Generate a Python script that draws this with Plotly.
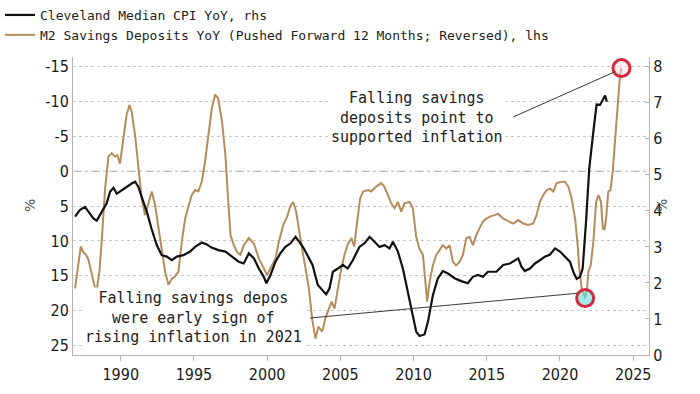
import plotly.graph_objects as go

# ---------------- data ----------------
cpi_years = [1986.88, 1987.2, 1987.56, 1987.8, 1988.13, 1988.36, 1988.7, 1989.04, 1989.27, 1989.5,
             1989.73, 1990.07, 1990.4, 1990.75, 1990.98, 1991.2, 1991.43, 1991.78, 1992.1, 1992.46,
             1992.8, 1993.14, 1993.49, 1993.83, 1994.28, 1994.74, 1995.08, 1995.54, 1995.88, 1996.2,
             1996.67, 1997.15, 1997.6, 1998.06, 1998.4, 1998.75, 1999.1, 1999.43, 1999.77, 1999.95,
             2000.23, 2000.57, 2000.9, 2001.25, 2001.6, 2001.94, 2002.2, 2002.5, 2002.8, 2003.1,
             2003.46, 2003.8, 2004.03, 2004.26, 2004.49, 2004.83, 2005.17, 2005.5, 2005.85, 2006.3,
             2006.65, 2007.0, 2007.33, 2007.68, 2008.02, 2008.36, 2008.59, 2008.93, 2009.27, 2009.6,
             2009.95, 2010.18, 2010.4, 2010.75, 2010.98, 2011.32, 2011.66, 2012.0, 2012.35, 2012.8,
             2013.26, 2013.7, 2014.05, 2014.4, 2014.74, 2015.08, 2015.66, 2016.12, 2016.58, 2016.92,
             2017.15, 2017.37, 2017.6, 2017.95, 2018.29, 2018.63, 2018.97, 2019.32, 2019.66, 2020.0,
             2020.34, 2020.68, 2020.91, 2021.14, 2021.37, 2021.55, 2021.78, 2022.0, 2022.28, 2022.5,
             2022.74, 2022.97, 2023.08, 2023.2]
cpi_values = [3.84, 4.02, 4.11, 3.98, 3.79, 3.73, 3.98, 4.21, 4.53, 4.64,
              4.48, 4.58, 4.67, 4.76, 4.81, 4.67, 4.39, 3.98, 3.51, 3.05,
              2.77, 2.73, 2.63, 2.73, 2.77, 2.87, 3.00, 3.12, 3.07, 2.98,
              2.91, 2.87, 2.73, 2.59, 2.54, 2.82, 2.68, 2.40, 2.17, 1.99,
              2.22, 2.59, 2.82, 3.00, 3.10, 3.28, 3.14, 2.96, 2.73, 2.50,
              1.94, 1.80, 1.68, 1.85, 2.31, 2.40, 2.50, 2.40, 2.63, 3.00,
              3.10, 3.28, 3.14, 3.00, 3.05, 2.96, 3.14, 2.87, 2.40, 1.76,
              1.11, 0.65, 0.53, 0.57, 0.92, 1.66, 2.13, 2.33, 2.26, 2.13,
              2.05, 1.99, 2.17, 2.22, 2.17, 2.31, 2.31, 2.50, 2.54, 2.63,
              2.68, 2.45, 2.33, 2.40, 2.54, 2.63, 2.73, 2.79, 2.96, 2.87,
              2.73, 2.59, 2.31, 2.11, 2.17, 2.40, 3.70, 5.18, 6.20, 6.95,
              6.94, 7.12, 7.20, 7.03]

m2_years = [1986.88, 1987.1, 1987.27, 1987.45, 1987.63, 1987.8, 1988.0, 1988.25, 1988.36, 1988.54,
            1988.7, 1988.93, 1989.16, 1989.38, 1989.6, 1989.77, 1989.95, 1990.18, 1990.4, 1990.6,
            1990.75, 1990.98, 1991.2, 1991.43, 1991.66, 1991.9, 1992.12, 1992.35, 1992.57, 1992.8,
            1993.03, 1993.26, 1993.49, 1993.7, 1993.94, 1994.17, 1994.4, 1994.62, 1994.85, 1995.08,
            1995.3, 1995.53, 1995.76, 1995.99, 1996.22, 1996.45, 1996.65, 1996.92, 1997.15, 1997.33,
            1997.5, 1997.72, 1997.95, 1998.17, 1998.4, 1998.75, 1999.1, 1999.43, 1999.66, 2000.0,
            2000.23, 2000.57, 2000.8, 2001.1, 2001.37, 2001.6, 2001.78, 2001.98, 2002.16, 2002.39,
            2002.6, 2002.85, 2003.07, 2003.3, 2003.5, 2003.76, 2003.98, 2004.2, 2004.4, 2004.6,
            2004.83, 2005.07, 2005.28, 2005.5, 2005.75, 2005.95, 2006.15, 2006.35, 2006.55, 2006.9,
            2007.1, 2007.45, 2007.8, 2008.0, 2008.25, 2008.47, 2008.7, 2008.93, 2009.16, 2009.38,
            2009.73, 2009.95, 2010.18, 2010.4, 2010.64, 2010.82, 2010.93, 2011.09, 2011.32, 2011.55,
            2011.78, 2012.0, 2012.23, 2012.46, 2012.69, 2012.9, 2013.14, 2013.37, 2013.6, 2013.83,
            2014.05, 2014.28, 2014.5, 2014.74, 2014.97, 2015.2, 2015.53, 2015.77, 2016.12, 2016.46,
            2016.8, 2017.15, 2017.5, 2017.83, 2018.17, 2018.4, 2018.63, 2018.86, 2019.1, 2019.32,
            2019.54, 2019.77, 2020.11, 2020.34, 2020.57, 2020.8, 2021.03, 2021.19, 2021.32, 2021.48,
            2021.72, 2021.85, 2021.94, 2022.1, 2022.28, 2022.47, 2022.63, 2022.8, 2022.93, 2023.04,
            2023.15, 2023.3, 2023.45, 2023.6, 2023.77, 2023.95, 2024.1, 2024.2]
m2_values = [16.8, 13.0, 10.8, 11.6, 12.0, 12.75, 14.4, 16.8, 17.1, 14.4,
             10.1, 2.5, -2.1, -2.6, -2.1, -2.3, -1.1, -4.5, -8.1, -9.5,
             -8.5, -5.2, -0.9, 3.9, 6.3, 4.4, 2.9, 4.9, 8.2, 11.1,
             14.4, 16.3, 15.4, 15.1, 14.4, 10.1, 6.8, 5.1, 3.4, 2.7,
             2.9, 1.5, -1.4, -5.2, -9.0, -11.0, -10.5, -7.1, -2.3, 3.9,
             9.2, 10.6, 11.6, 12.0, 10.6, 9.6, 10.4, 12.5, 13.5, 14.9,
             13.9, 12.5, 10.1, 7.7, 6.5, 4.9, 4.4, 5.8, 8.2, 11.1,
             13.9, 16.8, 21.1, 24.0, 22.3, 23.0, 21.1, 19.7, 18.7, 19.7,
             16.8, 13.9, 12.0, 10.5, 9.6, 10.8, 7.2, 3.9, 2.9, 2.7,
             2.9, 2.2, 1.7, 2.2, 3.4, 4.6, 5.3, 4.4, 5.8, 4.6,
             4.4, 5.3, 9.4, 11.1, 12.0, 16.8, 18.7, 15.9, 13.5, 12.0,
             11.3, 10.6, 11.1, 10.6, 13.0, 13.5, 13.0, 12.0, 9.6, 9.4,
             10.6, 9.2, 8.2, 7.2, 6.8, 6.5, 6.3, 6.1, 6.8, 7.2,
             7.5, 7.0, 7.5, 7.7, 7.5, 6.3, 4.4, 3.4, 2.7, 2.5,
             2.9, 1.7, 1.5, 1.5, 2.2, 3.9, 6.8, 10.1, 13.9, 16.8,
             18.2, 16.8, 14.4, 13.5, 10.1, 4.4, 3.4, 4.4, 8.2, 8.4,
             6.8, 2.9, 2.7, 0.1, -4.7, -9.5, -13.8, -14.8]

x_ticks = [1990, 1995, 2000, 2005, 2010, 2015, 2020, 2025]
left_ticks = [-15, -10, -5, 0, 5, 10, 15, 20, 25]
left_tick_labels = ["-15", "-10", "-5", "0", "5", "10", "15", "20", "25"]
right_ticks = [0, 1, 2, 3, 4, 5, 6, 7, 8]

cpi_name = "Cleveland Median CPI YoY, rhs"
m2_name = "M2 Savings Deposits YoY (Pushed Forward 12 Months; Reversed), lhs"
note_top = "Falling savings<br>deposits point to<br>supported inflation"
note_bottom = "Falling savings depos<br>were early sign of<br>rising inflation in 2021"

# highlighted points (taken from the M2 series)
i_top = len(m2_values) - 1
i_low = max(range(len(m2_values)), key=lambda i: m2_values[i] if m2_years[i] > 2021 else -99)

# ---------------- figure ----------------
TICKFONT = dict(family="DejaVu Sans Condensed, Liberation Sans, Arial", size=16, color="#1a1a1a")
MONO = "DejaVu Sans Mono, Liberation Mono, monospace"
AXC = "#b4b4b4"

fig = go.Figure()
fig.add_trace(go.Scatter(x=cpi_years, y=cpi_values, name=cpi_name, yaxis="y2",
                         mode="lines", line=dict(color="#111111", width=2.2)))
fig.add_trace(go.Scatter(x=m2_years, y=m2_values, name=m2_name, yaxis="y",
                         mode="lines", line=dict(color="#b58d5c", width=2)))
fig.add_trace(go.Scatter(x=[m2_years[i_top]], y=[m2_values[i_top]], mode="markers", showlegend=False,
                         marker=dict(size=17, color="rgba(255,215,220,0.45)",
                                     line=dict(color="#d42a3c", width=3))))
fig.add_trace(go.Scatter(x=[m2_years[i_low]], y=[m2_values[i_low]], mode="markers", showlegend=False,
                         marker=dict(size=17, color="rgba(110,225,225,0.65)",
                                     line=dict(color="#d42a3c", width=3))))

fig.update_layout(
    width=700, height=394,
    margin=dict(l=73, r=51, t=57, b=39, autoexpand=False),
    paper_bgcolor="white", plot_bgcolor="white",
    showlegend=True,
    legend=dict(xref="container", yref="container", x=0.0, y=1.0, xanchor="left", yanchor="top",
                font=dict(family=MONO, size=13, color="#222"), itemwidth=30,
                bgcolor="rgba(0,0,0,0)", tracegroupgap=0),
    xaxis=dict(range=[1986.74, 2026.08], tickvals=x_ticks, ticks="outside", ticklen=5, tickcolor=AXC,
               showline=True, linecolor=AXC, linewidth=1, showgrid=False, zeroline=False,
               tickfont=TICKFONT, automargin=False),
    yaxis=dict(range=[26.36, -16.39], tickvals=left_ticks, ticktext=left_tick_labels,
               showline=True, linecolor=AXC, linewidth=1,
               showgrid=True, gridcolor="#c8c8c8", griddash="dot", gridwidth=1, zeroline=False,
               ticks="", tickfont=TICKFONT, automargin=False),
    yaxis2=dict(range=[0, 8.27], tickvals=right_ticks, overlaying="y", side="right", showline=True,
                linecolor=AXC, linewidth=1, showgrid=False, zeroline=False, ticks="inside", ticklen=4,
                tickcolor=AXC, tickfont=TICKFONT, automargin=False),
    shapes=[
        dict(type="line", xref="paper", x0=0, x1=1, yref="y", y0=0, y1=0, layer="below",
             line=dict(color="#9a9a9a", width=1.2, dash="dashdot")),
        dict(type="line", xref="x", yref="y", x0=2016.8, y0=-7.78, x1=2023.79, y1=-14.31,
             line=dict(color="#3a3a3a", width=1)),
        dict(type="line", xref="x", yref="y", x0=2002.93, y0=21.05, x1=2021.2, y1=17.5,
             line=dict(color="#3a3a3a", width=1)),
    ],
    annotations=[
        dict(x=2010.24, y=-7.71, xref="x", yref="y", text=note_top, showarrow=False,
             font=dict(family=MONO, size=15, color="#222"), align="center", bgcolor="white"),
        dict(x=1994.94, y=21.05, xref="x", yref="y", text=note_bottom, showarrow=False,
             font=dict(family=MONO, size=15, color="#222"), align="center", bgcolor="white"),
        dict(x=0, y=0.5, xref="paper", yref="paper", xshift=-53, text="%", showarrow=False,
             textangle=-90, font=dict(family="DejaVu Sans, Arial", size=14, color="#555")),
        dict(x=1, y=0.5, xref="paper", yref="paper", xshift=23, text="%", showarrow=False,
             textangle=-90, font=dict(family="DejaVu Sans, Arial", size=14, color="#555")),
    ],
)

fig.write_html("out.html", config={"displayModeBar": False},
               post_script="document.body.style.margin='0';")
